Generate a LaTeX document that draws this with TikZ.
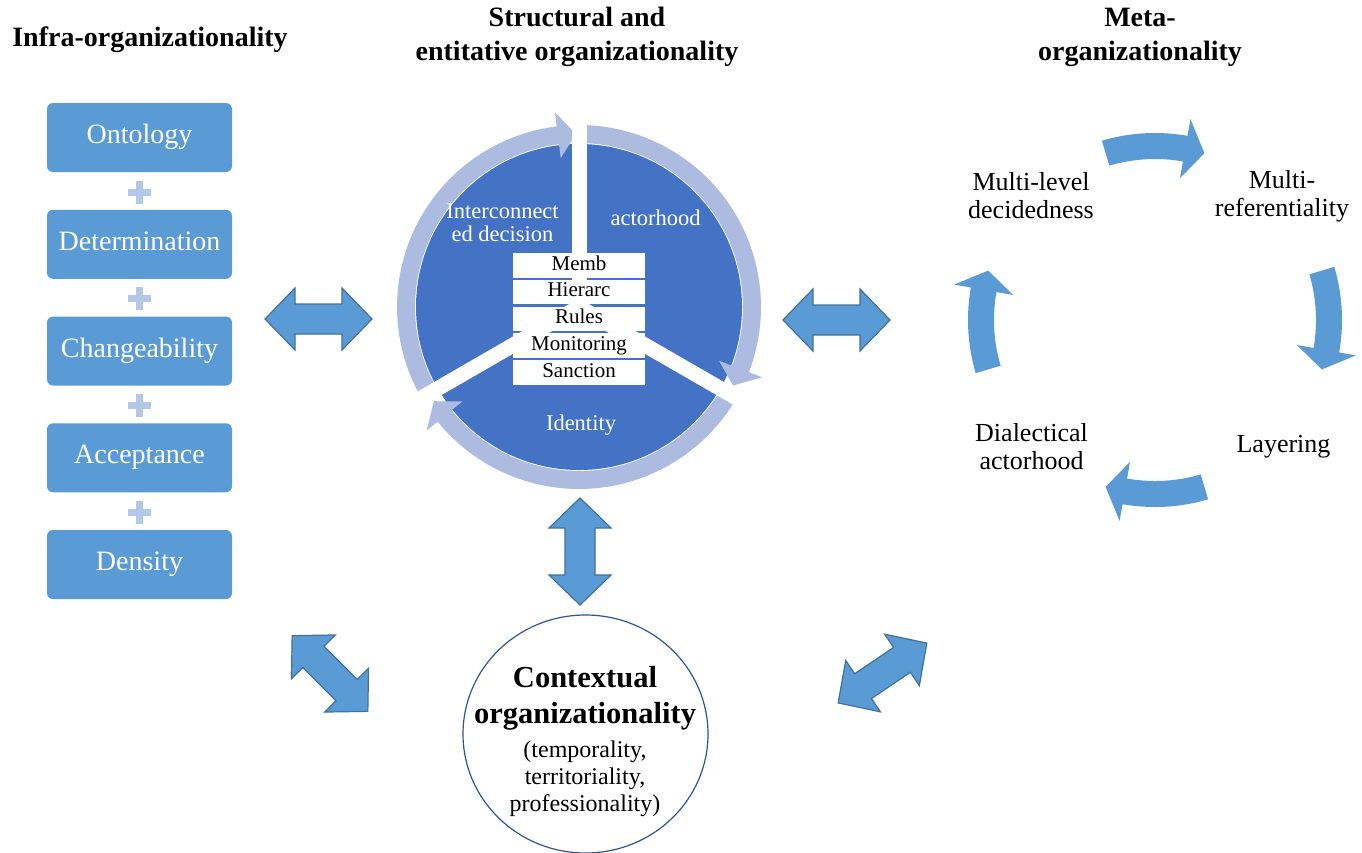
\documentclass[tikz,border=0pt]{standalone}
\usepackage{fontspec}
\setmainfont{Liberation Serif}
\usetikzlibrary{shapes.geometric}
\definecolor{boxblue}{RGB}{91,155,213}
\definecolor{pieblue}{RGB}{68,114,196}
\definecolor{ringblue}{RGB}{174,187,224}
\definecolor{plusblue}{RGB}{180,199,231}
\definecolor{arrowedge}{RGB}{65,113,156}
\definecolor{circedge}{RGB}{47,85,151}
% curved block arrow: #1 cx, #2 cy, #3 rmid, #4 half body, #5 half head, #6 tail, #7 head back, #8 tip
\newcommand{\curvarr}[8]{%
 plot[domain=0:1, samples=50] ({#1+(#3+#4)*cos(#6+(#7-#6)*\x)},{#2-(#3+#4)*sin(#6+(#7-#6)*\x)})
 -- ({#1+(#3+#5)*cos(#7)},{#2-(#3+#5)*sin(#7)})
 -- ({#1+#3*cos(#8)},{#2-#3*sin(#8)})
 -- ({#1+(#3-#5)*cos(#7)},{#2-(#3-#5)*sin(#7)})
 -- plot[domain=0:1, samples=50] ({#1+(#3-#4)*cos(#7+(#6-#7)*\x)},{#2-(#3-#4)*sin(#7+(#6-#7)*\x)})
 -- cycle}
\begin{document}
\begin{tikzpicture}[x=1pt,y=-1pt,
  title/.style={font=\bfseries\fontsize{28}{34}\selectfont, align=center, inner sep=0pt},
  leftbox/.style={rectangle, rounded corners=6pt, fill=boxblue, minimum width=185pt, minimum height=69pt,
     text=white, font=\fontsize{28}{30}\selectfont, inner sep=0pt, text height=18pt, text depth=6pt},
  plusbar/.style={rectangle, fill=plusblue, inner sep=0pt},
  rowbox/.style={rectangle, fill=white, minimum width=132pt, minimum height=24.5pt, inner sep=0pt,
     font=\fontsize{21}{21}\selectfont, text height=14pt, text depth=4.5pt},
  seglabel/.style={text=white, font=\fontsize{22.5}{23}\selectfont, align=center, inner sep=0pt},
  cyclabel/.style={font=\fontsize{26}{28}\selectfont, align=center, inner sep=0pt},
  dblarrow/.pic={\filldraw[fill=boxblue, draw=arrowedge, line width=1.2pt, line join=miter]
     (-53.5,0) -- (-23.5,-31) -- (-23.5,-15) -- (23.5,-15) -- (23.5,-31) -- (53.5,0)
     -- (23.5,31) -- (23.5,15) -- (-23.5,15) -- (-23.5,31) -- cycle;}
]
\useasboundingbox (0,0) rectangle (1362,852);
\fill[white] (0,0) rectangle (1362,852);

% ---------- titles
\node[title] (t1) at (150,40) {Infra-organizationality};
\node[title] (t2) at (577,37) {Structural and\\entitative organizationality};
\node[title] (t3) at (1140,37) {Meta-\\organizationality};

% ---------- left column
\node[leftbox] (b1) at (139.5,137.5) {Ontology};
\node[leftbox] (b2) at (139.5,244.25) {Determination};
\node[leftbox] (b3) at (139.5,351) {Changeability};
\node[leftbox] (b4) at (139.5,457.75) {Acceptance};
\node[leftbox] (b5) at (139.5,564.5) {Density};
\foreach \yy [count=\i] in {192,298.75,405.5,512.25}{
  \node[plusbar, minimum width=23pt, minimum height=7pt] (ph\i) at (139.5,\yy) {};
  \node[plusbar, minimum width=7pt, minimum height=23pt] (pv\i) at (139.5,\yy) {};
}

% ---------- central pie
\node[circle, fill=pieblue, minimum size=326pt, inner sep=0pt] (pie) at (579,307) {};
\fill[ringblue] \curvarr{579}{307}{173}{9}{23}{212}{97}{91};
\fill[ringblue] \curvarr{579}{307}{173}{9}{23}{88}{-21}{-27};
\fill[ringblue] \curvarr{579}{307}{173}{9}{23}{-32}{-141}{-147};
\draw[white, line width=15pt] (pie.center) -- (579,100);
\draw[white, line width=15pt] (pie.center) -- (401.5,409.5);
\draw[white, line width=15pt] (pie.center) -- (756.5,409.5);

\node[rowbox] (r1) at (579,265.25) {Memb};
\node[rowbox] (r2) at (579,292) {Hierarc};
\node[rowbox] (r3) at (579,318.75) {Rules};
\node[rowbox] (r4) at (579,345.5) {Monitoring};
\node[rowbox] (r5) at (579,372.25) {Sanction};

\node[seglabel] (s1) at (502.5,223) {Interconnect\\ed decision};
\node[seglabel] (s2) at (655.5,218) {actorhood};
\node[seglabel] (s3) at (581,425) {Identity};

% ---------- double arrows
\pic (aL) at (318.5,319) {dblarrow};
\pic (aR) at (836.5,320) {dblarrow};
\pic[rotate=90] (aV) at (580,551.5) {dblarrow};
\pic[rotate=-45] (aDL) at (330,673.5) {dblarrow};
\pic[rotate=34] (aDR) at (882.5,673) {dblarrow};

% ---------- contextual circle
\node[ellipse, draw=circedge, line width=1.2pt, minimum width=245pt, minimum height=238pt, inner sep=0pt] (ctx) at (585.5,734) {};
\node[font=\bfseries\fontsize{30.5}{36}\selectfont, align=center, inner sep=0pt] (ctxA) at (585,698) {Contextual\\organizationality};
\node[font=\fontsize{24}{27}\selectfont, align=center, inner sep=0pt] (ctxB) at (585,779) {(temporality,\\territoriality,\\professionality)};

% ---------- meta cycle
\fill[boxblue] \curvarr{1155}{320}{174}{13}{30}{106.5}{80}{73.5};
\fill[boxblue] \curvarr{1155}{320}{174}{13}{30}{16.5}{-10}{-16.5};
\fill[boxblue] \curvarr{1155}{320}{174}{13}{30}{286.5}{260}{253.5};
\fill[boxblue] \curvarr{1155}{320}{174}{13}{30}{196.5}{170}{163.5};

\node[cyclabel] (m1) at (1031,196) {Multi-level\\decidedness};
\node[cyclabel] (m2) at (1282,196) {Multi-\\referentiality};
\node[cyclabel] (m3) at (1283.5,447) {Layering};
\node[cyclabel] (m4) at (1031.5,447) {Dialectical\\actorhood};
\end{tikzpicture}
\end{document}
